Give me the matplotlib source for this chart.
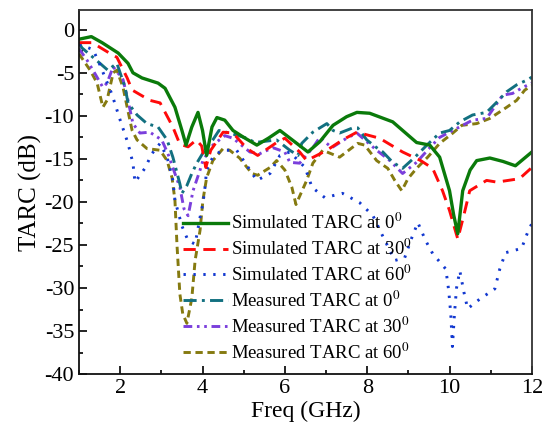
import numpy as np
import matplotlib
matplotlib.use("Agg")
import matplotlib.pyplot as plt
from matplotlib.ticker import MultipleLocator

plt.rcParams['font.family'] = ['Liberation Serif', 'DejaVu Serif']
plt.rcParams['mathtext.fontset'] = 'stix'
plt.rcParams['axes.unicode_minus'] = False

# Simulated TARC at 0 deg
sim0_f = [1.0, 1.3, 1.56, 1.95, 2.19, 2.31, 2.53, 2.92, 3.09, 3.33, 3.5, 3.6, 3.74, 3.89, 4.0, 4.1,
          4.23, 4.35, 4.54, 4.74, 5.0, 5.32, 5.6, 5.88, 6.29, 6.56, 6.85, 7.17, 7.5, 7.75, 8.06, 8.62,
          9.2, 9.52, 9.76, 10.0, 10.1, 10.2, 10.32, 10.5, 10.66, 10.98, 11.3, 11.6, 12.0]
sim0_v = [-1.1, -0.8, -1.5, -2.7, -3.9, -5.0, -5.6, -6.2, -6.8, -9.0, -11.7, -13.4, -11.3, -9.6, -11.7, -14.6,
          -11.3, -10.2, -10.5, -11.7, -12.5, -13.4, -12.6, -11.7, -13.2, -14.2, -13.0, -11.1, -10.1, -9.6, -9.7, -10.7,
          -13.1, -13.4, -14.8, -18.7, -21.5, -23.7, -18.7, -16.3, -15.2, -14.9, -15.3, -15.8, -14.2]

# Simulated TARC at 30 deg
sim30_f = [1.0, 1.32, 1.7, 1.92, 2.17, 2.29, 2.72, 2.97, 3.28, 3.45, 3.65, 3.85, 3.98, 4.08, 4.2, 4.5,
           4.74, 5.08, 5.34, 5.8, 6.0, 6.36, 6.53, 7.02, 7.4, 7.75, 8.3, 8.86, 9.3, 9.59, 9.83, 10.0, 10.2,
           10.35, 10.49, 10.9, 11.15, 11.7, 12.0]
sim30_v = [-1.5, -1.5, -2.6, -3.2, -5.6, -7.0, -8.2, -8.5, -11.3, -13.3, -13.6, -12.8, -13.5, -16.0, -14.0, -11.9,
           -12.0, -13.8, -14.6, -13.1, -12.6, -14.2, -15.2, -14.0, -12.8, -11.9, -12.6, -14.2, -15.2, -16.1, -18.7, -21.0, -24.3,
           -21.5, -18.7, -17.5, -17.7, -17.3, -16.0]

# Simulated TARC at 60 deg
sim60_f = [1.0, 1.34, 1.51, 1.8, 2.0, 2.19, 2.31, 2.36, 2.6, 2.77, 2.97, 3.14, 3.28, 3.33, 3.5, 3.65, 3.82,
           3.94, 4.01, 4.06, 4.1, 4.25, 4.47, 4.83, 5.32, 5.64, 5.88, 6.12, 6.49, 6.66, 6.97, 7.4, 7.82,
           8.14, 8.35, 8.67, 8.91, 9.08, 9.23, 9.42, 9.59, 9.91, 9.98, 10.03, 10.07, 10.12, 10.17, 10.25,
           10.35, 10.44, 10.73, 11.1, 11.22, 11.36, 11.75, 11.9, 12.0]
sim60_v = [-1.7, -2.3, -4.1, -7.5, -10.5, -13.2, -15.5, -17.7, -16.1, -14.4, -13.2, -14.8, -17.5, -19.8, -22.8, -24.5, -24.9,
           -21.8, -20.2, -18.3, -16.3, -14.8, -14.0, -14.0, -17.5, -16.7, -14.6, -14.2, -16.0, -18.3, -19.5, -19.0, -20.1,
           -21.6, -23.7, -26.8, -26.5, -24.2, -22.4, -24.5, -26.0, -27.8, -30.3, -33.0, -36.8, -33.0, -30.0, -28.0,
           -30.5, -32.4, -31.3, -30.1, -27.8, -25.9, -25.4, -23.5, -22.5]

# Measured TARC at 0 deg
meas0_f = [1.0, 1.07, 1.46, 1.7, 1.92, 2.12, 2.19, 2.41, 2.65, 2.92, 3.14, 3.28, 3.45, 3.5, 3.62, 3.74, 3.86,
           4.05, 4.25, 4.4, 4.66, 5.08, 5.27, 5.8, 6.12, 6.32, 6.41, 6.68, 7.02, 7.17, 7.33, 7.65, 7.77,
           7.99, 8.23, 8.38, 8.62, 8.86, 9.16, 9.45, 9.76, 10.0, 10.25, 10.56, 10.9, 11.15, 11.39, 11.63,
           11.9, 12.0]
meas0_v = [-1.5, -2.1, -3.7, -4.7, -3.9, -6.7, -8.5, -9.9, -10.9, -11.3, -12.8, -14.8, -17.9, -19.0, -18.1, -16.7, -15.5,
           -14.0, -12.8, -11.7, -12.0, -12.6, -13.1, -12.8, -14.0, -14.6, -13.2, -11.9, -10.9, -11.7, -12.0, -11.4, -11.4,
           -12.8, -13.7, -14.2, -15.4, -16.1, -14.8, -13.4, -12.0, -11.7, -10.7, -9.9, -9.6, -8.4, -7.2, -6.4,
           -5.8, -5.5]

# Measured TARC at 30 deg
meas30_f = [1.0, 1.19, 1.4, 1.58, 1.68, 1.83, 2.07, 2.19, 2.31, 2.48, 2.72, 3.01, 3.16, 3.33, 3.45, 3.55,
            3.65, 3.77, 3.94, 4.01, 4.25, 4.54, 4.74, 5.15, 5.39, 5.71, 6.0, 6.12, 6.36, 6.68, 6.85, 7.14,
            7.5, 7.75, 8.23, 8.55, 8.86, 9.2, 9.52, 9.76, 10.08, 10.56, 10.9, 11.29, 11.53, 11.78, 12.0]
meas30_v = [-2.2, -3.5, -5.2, -6.7, -6.2, -4.3, -5.8, -8.2, -10.9, -12.0, -11.9, -12.8, -14.4, -16.7, -18.3, -20.8,
            -21.6, -18.7, -16.3, -15.2, -13.4, -12.3, -12.6, -14.2, -14.4, -13.7, -14.2, -15.4, -15.5, -13.7, -12.5, -13.7,
            -12.6, -12.0, -14.0, -15.2, -16.7, -15.4, -13.7, -12.5, -11.7, -10.5, -10.3, -7.6, -7.4, -6.7, -6.2]

# Measured TARC at 60 deg
meas60_f = [1.0, 1.27, 1.44, 1.58, 1.68, 1.83, 1.92, 2.07, 2.17, 2.29, 2.41, 2.65, 2.97, 3.14, 3.26, 3.33,
            3.38, 3.45, 3.52, 3.62, 3.74, 3.82, 3.94, 4.01, 4.1, 4.25, 4.5, 4.66, 4.9, 5.2, 5.34, 5.64, 5.8,
            6.0, 6.17, 6.27, 6.53, 6.68, 6.92, 7.33, 7.77, 7.94, 8.23, 8.5, 8.67, 8.84, 8.99, 9.2, 9.47,
            9.76, 10.08, 10.3, 10.66, 10.98, 11.39, 11.63, 11.83, 12.0]
meas60_v = [-2.8, -4.7, -6.2, -9.0, -8.2, -5.0, -4.7, -6.7, -9.0, -11.7, -12.8, -13.8, -14.0, -15.2, -17.2, -19.8,
            -25.0, -30.7, -33.0, -34.1, -31.2, -26.8, -23.3, -19.8, -17.2, -15.2, -13.8, -14.0, -14.9, -16.7, -16.9, -16.0, -15.2,
            -16.3, -18.3, -20.3, -17.5, -15.5, -14.0, -14.8, -13.2, -13.4, -15.2, -16.1, -17.5, -18.7, -17.3, -16.1, -14.8,
            -13.2, -12.0, -11.1, -10.9, -10.3, -9.0, -8.2, -7.0, -6.5]

labels = ['Simulated TARC at 0$^0$', 'Simulated TARC at 30$^0$', 'Simulated TARC at 60$^0$',
          'Measured TARC at 0$^0$', 'Measured TARC at 30$^0$', 'Measured TARC at 60$^0$']

fig = plt.figure(figsize=(5.43, 4.32), dpi=100)
ax = fig.add_axes([0.1455, 0.134, 0.834, 0.843])

lw = 2.1
l6, = ax.plot(meas60_f, meas60_v, color='#857a10', lw=lw, ls=(0, (2.5, 1.6)))
l5, = ax.plot(meas30_f, meas30_v, color='#7b3fdc', lw=lw, ls=(0, (3, 1.6, 0.9, 1.6, 0.9, 1.6)))
l4, = ax.plot(meas0_f, meas0_v, color='#127080', lw=lw, ls=(0, (4.5, 1.8, 1, 1.8)))
l3, = ax.plot(sim60_f, sim60_v, color='#1238d0', lw=lw, ls=(0, (0.8, 2.6)))
l2, = ax.plot(sim30_f, sim30_v, color='#ff0a0a', lw=lw, ls=(0, (4.2, 2.6)))
l1, = ax.plot(sim0_f, sim0_v, color='#0a7a0a', lw=lw + 0.3, ls='-')

ax.set_xlim(1, 12)
ax.set_ylim(-40, 2.3)
ax.xaxis.set_major_locator(MultipleLocator(2))
ax.xaxis.set_minor_locator(MultipleLocator(1))
ax.yaxis.set_major_locator(MultipleLocator(5))
ax.yaxis.set_minor_locator(MultipleLocator(2.5))
ax.tick_params(which='both', direction='in', top=False, right=False, labelsize=16, width=1.2)
ax.tick_params(which='major', length=6)
ax.tick_params(which='minor', length=3)
for s in ax.spines.values():
    s.set_linewidth(1.3)
    s.set_color('#333333')
ax.spines['bottom'].set_color('#111111')
ax.spines['left'].set_color('#111111')

ax.set_xlabel('Freq (GHz)', fontsize=17, labelpad=2)
ax.set_ylabel('TARC (dB)', fontsize=18, labelpad=2)

ax.legend([l1, l2, l3, l4, l5, l6], labels, loc='lower left', bbox_to_anchor=(0.2, -0.005),
          frameon=False, fontsize=13.5, handlelength=2.4, handletextpad=0.2, labelspacing=0.3,
          borderpad=0.2)

fig.savefig('out.png', dpi=100)
